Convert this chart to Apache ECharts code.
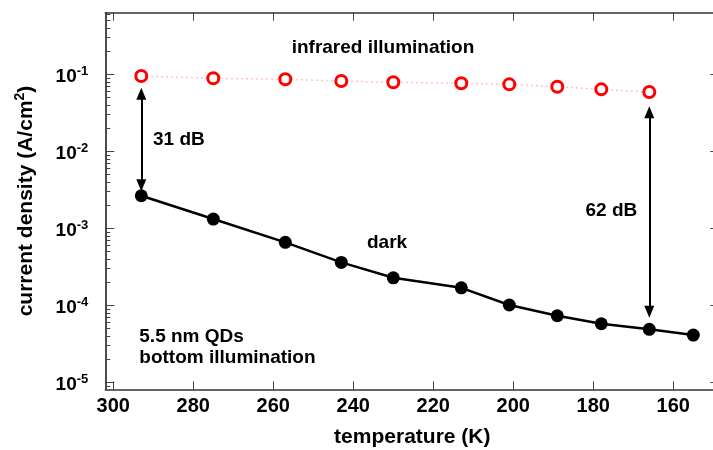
<!DOCTYPE html>
<html>
<head>
<meta charset="utf-8">
<script src="https://cdn.jsdelivr.net/npm/echarts@6.0.0/dist/echarts.min.js"></script>
<style>
html,body{margin:0;padding:0;background:#fff;}
#chart{width:713px;height:450px;}
</style>
</head>
<body>
<div id="chart"></div>
<script>
// ---- data ----
const tempIR = [293, 275, 257, 243, 230, 213, 201, 189, 178, 166];
const irCurrent = [0.0951, 0.0887, 0.0861, 0.0818, 0.0787, 0.0764, 0.0741, 0.069, 0.0638, 0.0589];
const tempDark = [293, 275, 257, 243, 230, 213, 201, 189, 178, 166, 155];
const darkCurrent = [2.65e-3, 1.32e-3, 6.58e-4, 3.61e-4, 2.28e-4, 1.69e-4, 1.01e-4, 7.33e-5, 5.77e-5, 4.88e-5, 4.11e-5];
const xTicks = [160, 180, 200, 220, 240, 260, 280, 300];
const yExponents = [-5, -4, -3, -2, -1];
// double arrows: [temperature, upper current, lower current] (arrowhead centres)
const arrows = [[293, 0.0558, 3.63e-3], [166, 0.0322, 8.23e-5]];
const arrowLabels = ['31 dB', '62 dB'];

// ---- build ----
const lg = v => Math.log10(v);
const minorTicks = [];
for (let e = -6; e <= 0; e++) {
  for (let k = 2; k <= 9; k++) minorTicks.push(lg(k) + e);
}
const FONT = '"Liberation Sans", Arial, sans-serif';

const chart = echarts.init(document.getElementById('chart'), null, {renderer: 'canvas'});
const yMin = -5.09, yMax = -0.2;

const option = {
  animation: false,
  backgroundColor: '#fff',
  grid: {left: 105.3, top: 12.7, width: 614, height: 376.6, containLabel: false, outerBoundsMode: 'none'},
  xAxis: [{
    type: 'value', position: 'bottom', min: 148.5, max: 302, inverse: true,
    name: 'temperature (K)', nameLocation: 'middle', nameGap: 37,
    nameTextStyle: {fontFamily: FONT, fontWeight: 'bold', fontSize: 21, color: '#000'},
    axisLine: {show: true, onZero: false, lineStyle: {color: '#333', width: 1.5}},
    axisTick: {show: true, inside: true, length: 8, customValues: xTicks, lineStyle: {color: '#444', width: 1}},
    axisLabel: {show: true, customValues: xTicks, margin: 7, fontFamily: FONT, fontWeight: 'bold', fontSize: 20, color: '#000'},
    splitLine: {show: false}
  }, {
    type: 'value', position: 'top', min: 148.5, max: 302, inverse: true,
    axisLine: {show: true, onZero: false, lineStyle: {color: '#333', width: 1.5}},
    axisTick: {show: true, inside: true, length: 8, customValues: xTicks, lineStyle: {color: '#444', width: 1}},
    axisLabel: {show: false},
    splitLine: {show: false}
  }],
  yAxis: [{
    type: 'value', position: 'left', min: yMin, max: yMax,
    name: 'current density (A/cm{s|2})', nameLocation: 'middle', nameGap: 66, nameRotate: 90,
    nameTextStyle: {fontFamily: FONT, fontWeight: 'bold', fontSize: 21, color: '#000',
      rich: {s: {fontFamily: FONT, fontWeight: 'bold', fontSize: 14, color: '#000', padding: [0, 0, 12, 0]}}},
    axisLine: {show: true, onZero: false, lineStyle: {color: '#111', width: 1.5}},
    axisTick: {show: true, inside: true, length: 9, customValues: yExponents, lineStyle: {color: '#444', width: 1}},
    axisLabel: {
      show: true, customValues: yExponents, margin: 17,
      formatter: v => '{b|10}{s|' + Math.round(v) + '}',
      rich: {
        b: {fontFamily: FONT, fontWeight: 'bold', fontSize: 19, lineHeight: 19, color: '#000', padding: [5, 0, 0, 0]},
        s: {fontFamily: FONT, fontWeight: 'bold', fontSize: 13, lineHeight: 13, color: '#000', padding: [3, 0, 8, 0]}
      }
    },
    splitLine: {show: false}
  }, {
    type: 'value', position: 'right', min: yMin, max: yMax,
    axisLine: {show: true, onZero: false, lineStyle: {color: '#111', width: 1.5}},
    axisTick: {show: true, inside: true, length: 9, customValues: yExponents, lineStyle: {color: '#444', width: 1}},
    axisLabel: {show: false},
    splitLine: {show: false}
  }, {
    type: 'value', position: 'left', min: yMin, max: yMax,
    axisLine: {show: false},
    axisTick: {show: true, inside: true, length: 5, customValues: minorTicks, lineStyle: {color: '#444', width: 1}},
    axisLabel: {show: false},
    splitLine: {show: false}
  }],
  series: [{
    name: 'infrared', type: 'line', xAxisIndex: 0, yAxisIndex: 0,
    data: tempIR.map((t, i) => [t, lg(irCurrent[i])]),
    symbol: 'circle', symbolSize: 11,
    itemStyle: {color: '#fff', borderColor: '#ff0000', borderWidth: 3},
    lineStyle: {color: '#ffb3b3', width: 1.5, type: [1.5, 3.5]},
    z: 3
  }, {
    name: 'dark', type: 'line', xAxisIndex: 0, yAxisIndex: 0,
    data: tempDark.map((t, i) => [t, lg(darkCurrent[i])]),
    symbol: 'circle', symbolSize: 13,
    itemStyle: {color: '#000', borderWidth: 0},
    lineStyle: {color: '#000', width: 2.5},
    markLine: {
      silent: true, animation: false,
      symbol: ['triangle', 'triangle'], symbolSize: [10, 12],
      lineStyle: {color: '#000', width: 2, type: 'solid'},
      label: {show: false},
      data: arrows.map(a => [{coord: [a[0], lg(a[1])]}, {coord: [a[0], lg(a[2])]}])
    },
    z: 2
  }],
  graphic: [
    {type: 'text', left: 291.7, top: 38.5, style: {text: 'infrared illumination', font: 'bold 19px ' + FONT, fill: '#000'}},
    {type: 'text', left: 153, top: 130, style: {text: arrowLabels[0], font: 'bold 19px ' + FONT, fill: '#000'}},
    {type: 'text', left: 585.5, top: 201, style: {text: arrowLabels[1], font: 'bold 19px ' + FONT, fill: '#000'}},
    {type: 'text', left: 367, top: 233.5, style: {text: 'dark', font: 'bold 19px ' + FONT, fill: '#000'}},
    {type: 'text', left: 139.3, top: 327, style: {text: '5.5 nm QDs', font: 'bold 19px ' + FONT, fill: '#000'}},
    {type: 'text', left: 139.3, top: 348.5, style: {text: 'bottom illumination', font: 'bold 19px ' + FONT, fill: '#000'}}
  ]
};
chart.setOption(option);
</script>
</body>
</html>
